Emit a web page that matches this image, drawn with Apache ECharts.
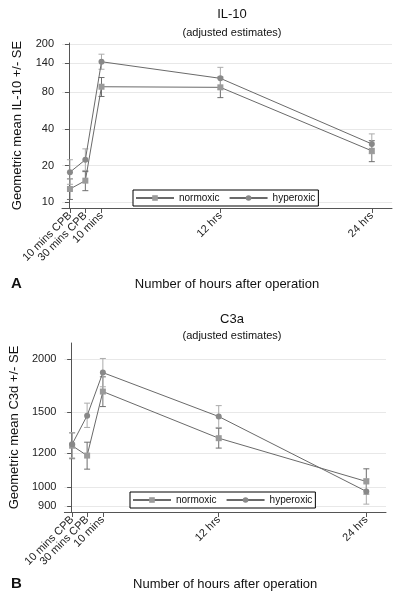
<!DOCTYPE html>
<html>
<head>
<meta charset="utf-8">
<script src="https://cdn.jsdelivr.net/npm/echarts@6/dist/echarts.min.js"></script>
<style>
html,body{margin:0;padding:0;background:#fff;}
#chart{width:400px;height:599px;}
</style>
</head>
<body>
<div id="chart"></div>
<script>
// ---- data ----
const timeLabels = ['10 mins CPB', '30 mins CPB', '10 mins', '12 hrs', '24 hrs'];
const timePos = [0.08, 1.3, 2.58, 12, 24];

const il10Normoxic   = [12.8, 15.0, 89, 88, 26.4];
const il10NormoxicLo = [10.5, 12.4, 74, 72.4, 21.5];
const il10NormoxicHi = [15.5, 17.8, 106, 107, 32];
const il10Hyperoxic   = [17.6, 22.3, 143, 104.4, 30.1];
const il10HyperoxicLo = [14.0, 18.2, 124, 85, 25];
const il10HyperoxicHi = [22.3, 27.4, 165, 128.6, 36.4];

const c3Normoxic   = [1250, 1185, 1676, 1302, 1030];
const c3NormoxicLo = [1165, 1101, 1545, 1234, 962];
const c3NormoxicHi = [1340, 1274, 1815, 1374, 1103];
const c3Hyperoxic   = [1260, 1471, 1857, 1464, 976];
const c3HyperoxicLo = [1170, 1380, 1720, 1380, 911];
const c3HyperoxicHi = [1342, 1574, 2005, 1553, 1045];

const il10Ticks = [10, 20, 40, 80, 140, 200];
const c3Ticks = [900, 1000, 1200, 1500, 2000];

// ---- helpers ----
const FONT = 'Liberation Sans, Arial, sans-serif';
const LINE_COLOR = '#6a6a6a';
const NORM_MARK = '#9a9a9a';
const HYPER_MARK = '#888888';
const NORM_ERR = '#6e6e6e';
const HYPER_ERR = '#ababab';

function pairs(ys) { return timePos.map((t, i) => [t, ys[i]]); }
function triples(lo, hi) { return timePos.map((t, i) => [t, lo[i], hi[i]]); }
function labelFor(v) {
  for (let i = 0; i < timePos.length; i++) if (Math.abs(timePos[i] - v) < 1e-6) return timeLabels[i];
  return '';
}
// labels split over two axes so neighbouring rotated labels are never auto-hidden
const labelSetA = timePos.filter((t, i) => i % 2 === 0 || i > 2);
const labelSetB = timePos.filter((t, i) => i === 1);

function errSeries(name, idx, lo, hi, color) {
  return {
    type: 'custom',
    name: name + ' SE',
    xAxisIndex: idx, yAxisIndex: idx,
    z: 1,
    silent: true,
    data: triples(lo, hi),
    encode: { x: 0, y: [1, 2] },
    renderItem: function (params, api) {
      const x = api.value(0);
      const p1 = api.coord([x, api.value(1)]);
      const p2 = api.coord([x, api.value(2)]);
      const w = 3;
      const st = { stroke: color, lineWidth: 1 };
      return {
        type: 'group',
        children: [
          { type: 'line', shape: { x1: p1[0], y1: p1[1], x2: p2[0], y2: p2[1] }, style: st },
          { type: 'line', shape: { x1: p1[0] - w, y1: p1[1], x2: p1[0] + w, y2: p1[1] }, style: st },
          { type: 'line', shape: { x1: p2[0] - w, y1: p2[1], x2: p2[0] + w, y2: p2[1] }, style: st }
        ]
      };
    }
  };
}

function lineSeries(name, idx, ys, symbol, markColor) {
  return {
    type: 'line',
    name: name,
    xAxisIndex: idx, yAxisIndex: idx,
    z: 3,
    data: pairs(ys),
    symbol: symbol,
    symbolSize: 6,
    itemStyle: { color: markColor },
    lineStyle: { color: LINE_COLOR, width: 1 },
    label: { show: false },
    animation: false
  };
}

function xLabelStyle(values) {
  return {
    customValues: values, rotate: 45, margin: 6,
    showMinLabel: true, showMaxLabel: true, hideOverlap: false,
    fontFamily: FONT, fontSize: 11, color: '#222',
    formatter: labelFor
  };
}

function xAxis(idx, nameGap) {
  return {
    type: 'value', gridIndex: idx,
    min: -0.55, max: 25.6,
    name: 'Number of hours after operation',
    nameLocation: 'middle',
    nameGap: nameGap,
    nameTextStyle: { fontFamily: FONT, fontSize: 13, color: '#111' },
    axisLine: { show: true, lineStyle: { color: '#555', width: 1 } },
    axisTick: { show: true, length: 5, customValues: timePos, lineStyle: { color: '#555' } },
    axisLabel: xLabelStyle(labelSetA),
    splitLine: { show: false }
  };
}

function xAxisExtra(idx) {
  return {
    type: 'value', gridIndex: idx, position: 'bottom',
    min: -0.55, max: 25.6,
    axisLine: { show: false },
    axisTick: { show: false },
    axisLabel: xLabelStyle(labelSetB),
    splitLine: { show: false }
  };
}

function yAxis(idx, name, min, max, ticks) {
  return {
    type: 'log', logBase: 10, gridIndex: idx,
    min: min, max: max,
    name: name,
    nameLocation: 'middle',
    nameRotate: 90,
    nameGap: 38,
    nameTextStyle: { fontFamily: FONT, fontSize: 13, color: '#111' },
    axisLine: { show: true, lineStyle: { color: '#555', width: 1 } },
    axisTick: { show: true, length: 4, customValues: ticks, lineStyle: { color: '#555' } },
    axisLabel: {
      customValues: ticks, margin: 8, fontFamily: FONT, fontSize: 11, color: '#222',
      showMinLabel: true, showMaxLabel: true, hideOverlap: false,
      formatter: v => String(Math.round(v))
    },
    splitLine: { show: true, lineStyle: { color: '#e8e8e8', width: 1 } }
  };
}

function legend(left, top) {
  return {
    left: left, top: top,
    data: ['normoxic', 'hyperoxic'],
    orient: 'horizontal',
    itemWidth: 38, itemHeight: 7, itemGap: 9,
    padding: [3, 3, 3, 2],
    borderColor: '#000', borderWidth: 1,
    backgroundColor: '#fff',
    textStyle: { fontFamily: FONT, fontSize: 10, color: '#111' },
    selectedMode: false
  };
}

const chart = echarts.init(document.getElementById('chart'), null, { renderer: 'canvas' });
chart.setOption({
  animation: false,
  backgroundColor: '#fff',
  title: [
    {
      text: 'IL-10', subtext: '(adjusted estimates)',
      left: 227, top: 3, textAlign: 'center', itemGap: 6,
      textStyle: { fontFamily: FONT, fontSize: 13, fontWeight: 'normal', color: '#111' },
      subtextStyle: { fontFamily: FONT, fontSize: 11, color: '#111' }
    },
    {
      text: 'C3a', subtext: '(adjusted estimates)',
      left: 227, top: 308, textAlign: 'center', itemGap: 4,
      textStyle: { fontFamily: FONT, fontSize: 13, fontWeight: 'normal', color: '#111' },
      subtextStyle: { fontFamily: FONT, fontSize: 11, color: '#111' }
    }
  ],
  grid: [
    { left: 62, right: 8, top: 43, height: 165, containLabel: false },
    { left: 62, right: 14, top: 343, height: 169, containLabel: false }
  ],
  xAxis: [xAxis(0, 70), xAxis(1, 66), xAxisExtra(0), xAxisExtra(1)],
  yAxis: [
    yAxis(0, 'Geometric mean IL-10 +/- SE', 8.93, 204, il10Ticks),
    yAxis(1, 'Geometric mean C3d +/- SE', 873, 2180, c3Ticks)
  ],
  legend: [legend(133, 190), legend(130, 492)],
  graphic: [
    { type: 'text', left: 11, top: 276, style: { text: 'A', fontFamily: FONT, fontSize: 15, fontWeight: 'bold', fill: '#111' } },
    { type: 'text', left: 11, top: 576, style: { text: 'B', fontFamily: FONT, fontSize: 15, fontWeight: 'bold', fill: '#111' } }
  ],
  series: [
    errSeries('normoxic', 0, il10NormoxicLo, il10NormoxicHi, NORM_ERR),
    errSeries('hyperoxic', 0, il10HyperoxicLo, il10HyperoxicHi, HYPER_ERR),
    lineSeries('normoxic', 0, il10Normoxic, 'rect', NORM_MARK),
    lineSeries('hyperoxic', 0, il10Hyperoxic, 'circle', HYPER_MARK),
    errSeries('normoxic', 1, c3NormoxicLo, c3NormoxicHi, NORM_ERR),
    errSeries('hyperoxic', 1, c3HyperoxicLo, c3HyperoxicHi, HYPER_ERR),
    lineSeries('normoxic', 1, c3Normoxic, 'rect', NORM_MARK),
    lineSeries('hyperoxic', 1, c3Hyperoxic, 'circle', HYPER_MARK)
  ]
});
</script>
</body>
</html>
